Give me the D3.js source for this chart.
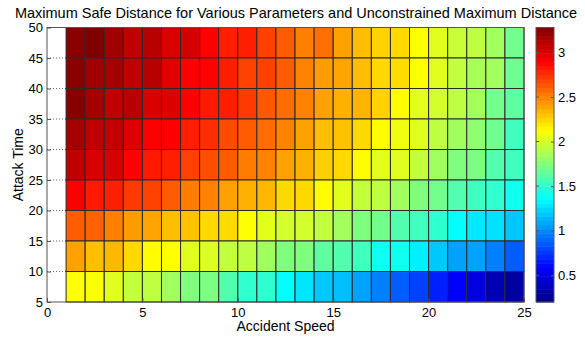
<!DOCTYPE html>
<html>
<head>
<meta charset="utf-8">
<script src="https://cdn.jsdelivr.net/npm/d3@7"></script>
<style>
  body { margin: 0; background: #fff; }
  text { font-family: "Liberation Sans", Arial, sans-serif; fill: #000; }
</style>
</head>
<body>
<div id="chart"></div>
<script>
// chart size
var svgWidth = 585;
var svgHeight = 339;

// accident speeds (left edge of each cell) and attack times (bottom edge of each row)
var speeds = [1, 2, 3, 4, 5, 6, 7, 8, 9, 10, 11, 12, 13, 14, 15, 16, 17, 18, 19, 20, 21, 22, 23, 24];
var times = [45, 40, 35, 30, 25, 20, 15, 10, 5];

// max safe distance, one row per attack time (top row first)
var row45 = [3.25, 3.28, 3.18, 3.09, 3.11, 3.01, 3.03, 2.90, 2.80, 2.80, 2.70, 2.62, 2.51, 2.56, 2.41, 2.32, 2.26, 2.24, 2.12, 2.03, 1.96, 1.93, 1.84, 1.70];
var row40 = [3.25, 3.18, 3.17, 3.09, 3.11, 2.99, 2.90, 2.89, 2.80, 2.70, 2.70, 2.62, 2.50, 2.42, 2.40, 2.32, 2.24, 2.23, 2.12, 2.03, 1.94, 1.86, 1.84, 1.69];
var row35 = [3.26, 3.17, 3.09, 3.11, 3.01, 3.00, 2.90, 2.82, 2.80, 2.72, 2.63, 2.57, 2.50, 2.41, 2.36, 2.35, 2.26, 2.13, 2.04, 1.99, 1.93, 1.85, 1.70, 1.64];
var row30 = [3.17, 3.09, 3.08, 3.00, 2.90, 2.90, 2.80, 2.76, 2.67, 2.62, 2.57, 2.50, 2.41, 2.32, 2.31, 2.24, 2.13, 2.08, 2.03, 1.93, 1.84, 1.79, 1.69, 1.55];
var row25 = [3.09, 3.01, 3.02, 2.90, 2.82, 2.80, 2.70, 2.66, 2.62, 2.52, 2.50, 2.41, 2.36, 2.27, 2.24, 2.13, 2.04, 2.03, 1.94, 1.84, 1.74, 1.73, 1.60, 1.55];
var row20 = [2.90, 2.82, 2.80, 2.72, 2.70, 2.62, 2.52, 2.50, 2.41, 2.36, 2.34, 2.24, 2.24, 2.13, 2.04, 1.94, 1.93, 1.84, 1.74, 1.70, 1.60, 1.55, 1.50, 1.40];
var row15 = [2.61, 2.60, 2.51, 2.42, 2.40, 2.32, 2.31, 2.24, 2.23, 2.12, 2.04, 1.99, 1.99, 1.94, 1.84, 1.74, 1.70, 1.60, 1.55, 1.50, 1.36, 1.29, 1.26, 1.19];
var row10 = [2.41, 2.32, 2.34, 2.24, 2.13, 2.12, 2.03, 2.02, 1.94, 1.93, 1.84, 1.74, 1.74, 1.64, 1.60, 1.55, 1.40, 1.40, 1.31, 1.19, 1.07, 1.07, 0.97, 0.87];
var row5 = [2.12, 2.11, 2.03, 1.94, 1.93, 1.84, 1.74, 1.73, 1.60, 1.50, 1.49, 1.36, 1.28, 1.19, 1.16, 1.07, 0.97, 0.87, 0.78, 0.68, 0.58, 0.49, 0.36, 0.30];
var rows = [row45, row40, row35, row30, row25, row20, row15, row10, row5];

// tick labels
var xTicks = [0, 5, 10, 15, 20, 25];
var yTicks = [5, 10, 15, 20, 25, 30, 35, 40, 45, 50];
var cbarTicks = [0.5, 1, 1.5, 2, 2.5, 3];
var colorLimits = [0.2, 3.28];

var plotLeft = 47, plotRight = 524, plotTop = 27.5, plotBottom = 302;

var svg = d3.select("#chart")
  .append("svg")
  .attr("width", svgWidth)
  .attr("height", svgHeight);

var xScale = d3.scaleLinear().domain([0, 25]).range([plotLeft, plotRight]);
var yScale = d3.scaleLinear().domain([5, 50]).range([plotBottom, plotTop]);

// jet colormap
var cmin = colorLimits[0], cmax = colorLimits[1], span = cmax - cmin;
var jet = d3.scaleLinear()
  .domain([0, 1 / 8, 3 / 8, 5 / 8, 7 / 8, 1].map(t => cmin + t * span))
  .range(["#000080", "#0000ff", "#00ffff", "#ffff00", "#ff0000", "#800000"])
  .clamp(true);

// dotted grid (only shows where no cells cover it)
svg.append("g").selectAll("line")
  .data(yTicks.slice(1, -1))
  .enter().append("line")
  .attr("x1", plotLeft).attr("x2", plotRight)
  .attr("y1", d => yScale(d)).attr("y2", d => yScale(d))
  .attr("stroke", "#666")
  .attr("stroke-width", 1)
  .attr("stroke-dasharray", "1,2");

// flatten cells
var cells = [];
rows.forEach(function(r, i) {
  r.forEach(function(v, j) {
    cells.push({ x: speeds[j], y: times[i], v: v });
  });
});

svg.append("g").selectAll("rect")
  .data(cells)
  .enter().append("rect")
  .attr("x", d => xScale(d.x))
  .attr("y", d => yScale(d.y + 5))
  .attr("width", d => xScale(d.x + 1) - xScale(d.x))
  .attr("height", d => yScale(d.y) - yScale(d.y + 5))
  .attr("fill", d => jet(d.v))
  .attr("stroke", "#2a2a2a")
  .attr("stroke-width", 1);

// axes box
svg.append("rect")
  .attr("x", plotLeft).attr("y", plotTop)
  .attr("width", plotRight - plotLeft).attr("height", plotBottom - plotTop)
  .attr("fill", "none")
  .attr("stroke", "#555")
  .attr("stroke-width", 1);

// x ticks and labels
var xAxis = d3.axisBottom(xScale).tickValues(xTicks).tickSize(-4).tickPadding(6);
var gx = svg.append("g").attr("transform", "translate(0," + plotBottom + ")").call(xAxis);
gx.select(".domain").remove();
gx.selectAll("line").attr("stroke", "#555");
gx.selectAll("text").style("font-size", "13px").style("font-family", "Liberation Sans, Arial, sans-serif");

// y ticks and labels
var yAxis = d3.axisLeft(yScale).tickValues(yTicks).tickSize(-4).tickPadding(4);
var gy = svg.append("g").attr("transform", "translate(" + plotLeft + ",0)").call(yAxis);
gy.select(".domain").remove();
gy.selectAll("line").attr("stroke", "#555");
gy.selectAll("text").style("font-size", "13px").style("font-family", "Liberation Sans, Arial, sans-serif");

// title and axis labels
svg.append("text")
  .attr("x", 296)
  .attr("y", 18)
  .attr("text-anchor", "middle")
  .style("font-size", "14.5px")
  .text("Maximum Safe Distance for Various Parameters and Unconstrained Maximum Distance");

svg.append("text")
  .attr("x", (plotLeft + plotRight) / 2)
  .attr("y", 331)
  .attr("text-anchor", "middle")
  .style("font-size", "14px")
  .text("Accident Speed");

svg.append("text")
  .attr("transform", "translate(23," + ((plotTop + plotBottom) / 2) + ") rotate(-90)")
  .attr("text-anchor", "middle")
  .style("font-size", "14px")
  .text("Attack Time");

// colorbar
var cbLeft = 536, cbRight = 554;
var cScale = d3.scaleLinear().domain(colorLimits).range([plotBottom, plotTop]);
var steps = d3.range(64);
var stepH = (plotBottom - plotTop) / 64;
svg.append("g").selectAll("rect")
  .data(steps)
  .enter().append("rect")
  .attr("x", cbLeft)
  .attr("y", d => plotBottom - (d + 1) * stepH)
  .attr("width", cbRight - cbLeft)
  .attr("height", stepH + 0.5)
  .attr("fill", d => jet(cmin + (d + 0.5) / 64 * span));

svg.append("rect")
  .attr("x", cbLeft).attr("y", plotTop)
  .attr("width", cbRight - cbLeft).attr("height", plotBottom - plotTop)
  .attr("fill", "none")
  .attr("stroke", "#555");

// colorbar ticks on the left edge too
svg.append("g").selectAll("line")
  .data(cbarTicks)
  .enter().append("line")
  .attr("x1", cbLeft).attr("x2", cbLeft + 3)
  .attr("y1", d => cScale(d)).attr("y2", d => cScale(d))
  .attr("stroke", "#555");

var cAxis = d3.axisRight(cScale).tickValues(cbarTicks).tickSize(-3).tickPadding(4)
  .tickFormat(d3.format("~g"));
var gc = svg.append("g").attr("transform", "translate(" + cbRight + ",0)").call(cAxis);
gc.select(".domain").remove();
gc.selectAll("line").attr("stroke", "#555");
gc.selectAll("text").style("font-size", "13px").style("font-family", "Liberation Sans, Arial, sans-serif");
</script>
</body>
</html>
